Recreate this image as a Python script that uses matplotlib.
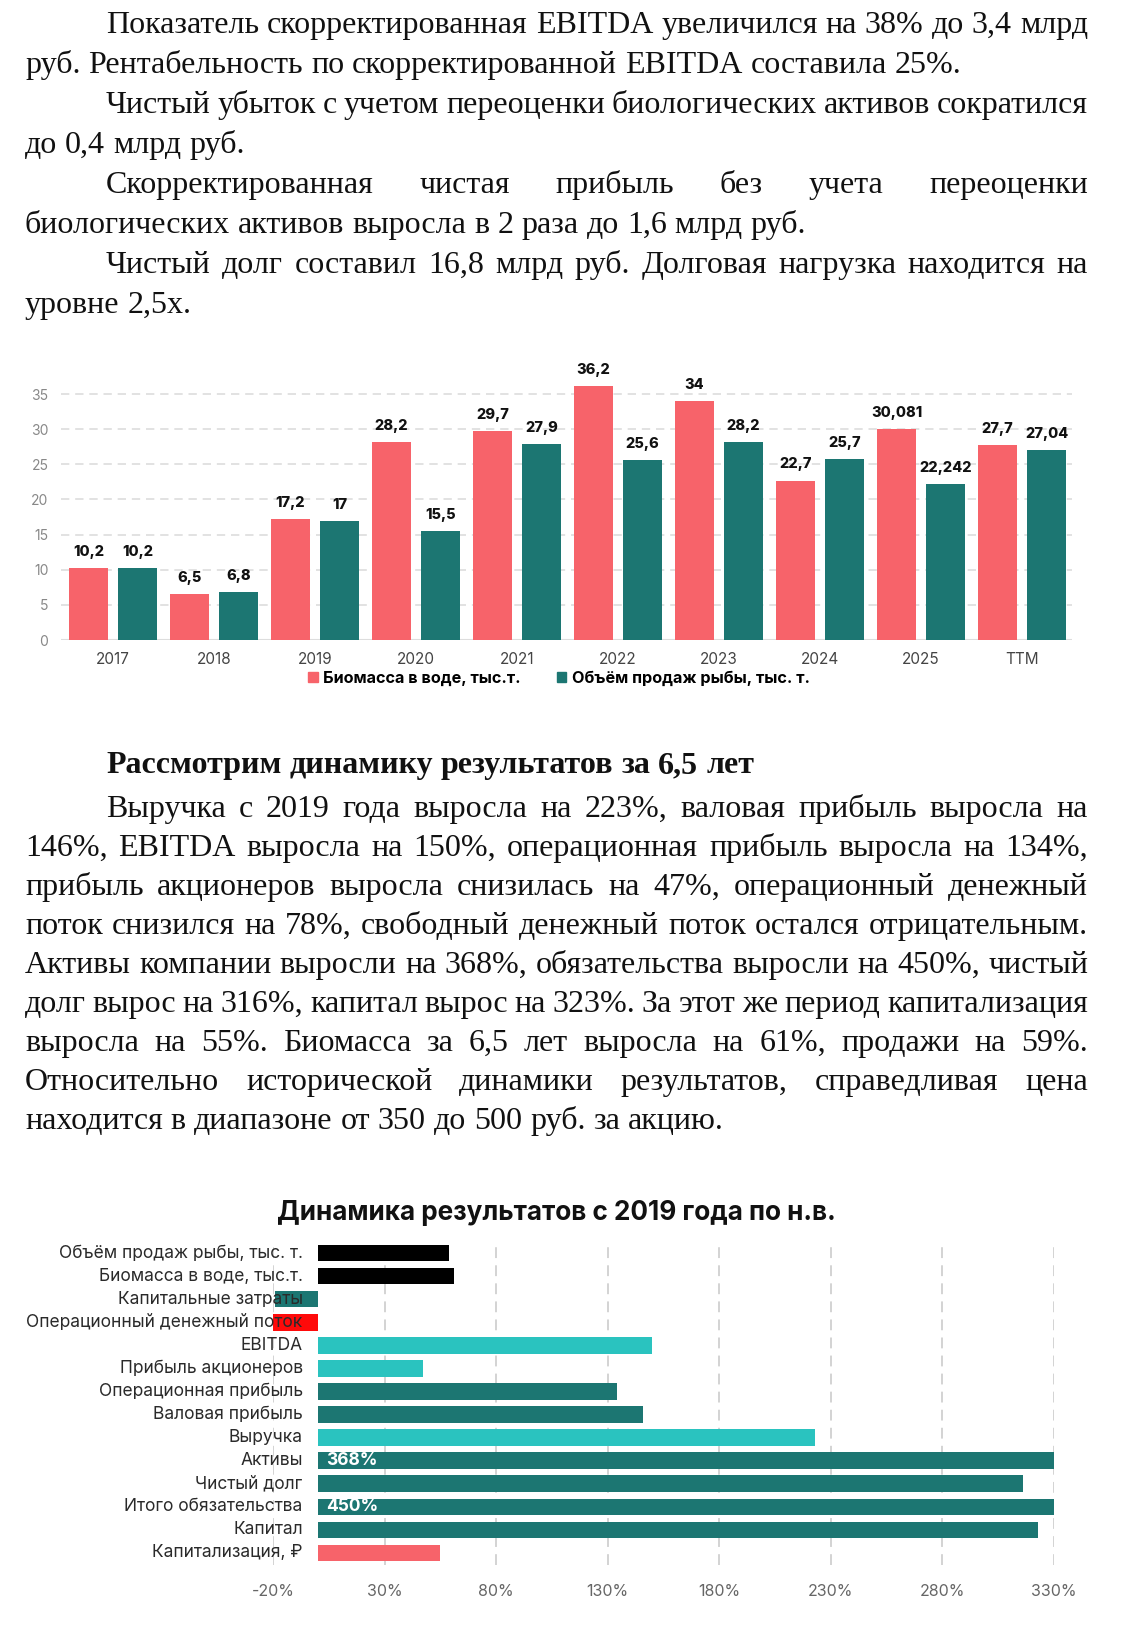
import numpy as np
import matplotlib
matplotlib.use('Agg')
import matplotlib.pyplot as plt
from matplotlib.patches import Patch

W, H = 1125, 1641

# --- bar chart data (тыс. т.)
years = ['2017', '2018', '2019', '2020', '2021', '2022', '2023', '2024', '2025', 'TTM']
biomass = [10.2, 6.5, 17.2, 28.2, 29.7, 36.2, 34, 22.7, 30.081, 27.7]
sales = [10.2, 6.8, 17, 15.5, 27.9, 25.6, 28.2, 25.7, 22.242, 27.04]

# --- growth since 2019, %
metrics = ['Объём продаж рыбы, тыс. т.', 'Биомасса в воде, тыс.т.', 'Капитальные затраты',
           'Операционный денежный поток', 'EBITDA', 'Прибыль акционеров',
           'Операционная прибыль', 'Валовая прибыль', 'Выручка', 'Активы', 'Чистый долг',
           'Итого обязательства', 'Капитал', 'Капитализация, ₽']
growth = [59, 61, -19, -78, 150, 47, 134, 146, 223, 368, 316, 450, 323, 55]
growth_ticks = [-20, 30, 80, 130, 180, 230, 280, 330]

RED = '#f7636a'
TEAL = '#1c7672'
CYAN = '#2ac3bf'
metric_colors = ['#000000', '#000000', TEAL, '#ff0a0a', CYAN, CYAN, TEAL, TEAL, CYAN,
                 TEAL, TEAL, TEAL, TEAL, RED]

SANS = 'Inter'
SERIF = 'Liberation Serif'

fig = plt.figure(figsize=(W / 100, H / 100), dpi=100)
fig.patch.set_facecolor('white')


def px(x, y):
    return x / W, 1 - y / H


def box(l, t, r, b):
    return [l / W, 1 - b / H, (r - l) / W, (b - t) / H]


# ---------- justified paragraph text
LEFT, RIGHT, INDENT = 25, 1088, 106
FS = 23
rend = fig.canvas.get_renderer()


def line(s, y, indent=False, justify=False, **kw):
    x0 = INDENT if indent else LEFT
    words = s.split(' ')
    ts = [fig.text(*px(x0, y), w, ha='left', va='baseline', family=SERIF,
                   fontsize=FS, color='#111111', **kw) for w in words]
    ws = [t.get_window_extent(rend).width for t in ts]
    space = FS * 100 / 72 * 0.25
    if justify and len(ts) > 1:
        gap = max((RIGHT - x0 - sum(ws)) / (len(ts) - 1), 3)
    else:
        gap = space
    x = x0
    for t, w in zip(ts, ws):
        t.set_position(px(x, y))
        x += w + gap


block1 = [
    ("Показатель скорректированная EBITDA увеличился на 38% до 3,4 млрд", True, True),
    ("руб. Рентабельность по скорректированной EBITDA составила 25%.", False, False),
    ("Чистый убыток с учетом переоценки биологических активов сократился", True, True),
    ("до 0,4 млрд руб.", False, False),
    ("Скорректированная чистая прибыль без учета переоценки", True, True),
    ("биологических активов выросла в 2 раза до 1,6 млрд руб.", False, False),
    ("Чистый долг составил 16,8 млрд руб. Долговая нагрузка находится на", True, True),
    ("уровне 2,5х.", False, False),
]
for k, (s, ind, jus) in enumerate(block1):
    line(s, 33 + 40 * k, ind, jus)

line("Рассмотрим динамику результатов за 6,5 лет", 773, True, False, fontweight='bold')
block2 = [
    ("Выручка с 2019 года выросла на 223%, валовая прибыль выросла на", True, True),
    ("146%, EBITDA выросла на 150%, операционная прибыль выросла на 134%,", False, True),
    ("прибыль акционеров выросла снизилась на 47%, операционный денежный", False, True),
    ("поток снизился на 78%, свободный денежный поток остался отрицательным.", False, True),
    ("Активы компании выросли на 368%, обязательства выросли на 450%, чистый", False, True),
    ("долг вырос на 316%, капитал вырос на 323%. За этот же период капитализация", False, True),
    ("выросла на 55%. Биомасса за 6,5 лет выросла на 61%, продажи на 59%.", False, True),
    ("Относительно исторической динамики результатов, справедливая цена", False, True),
    ("находится в диапазоне от 350 до 500 руб. за акцию.", False, False),
]
for k, (s, ind, jus) in enumerate(block2):
    line(s, 817 + 39 * k, ind, jus)

# ---------- grouped bar chart
ax = fig.add_axes(box(61, 373, 1072, 640))
x = np.arange(len(years))
bw, off = 0.386, 0.243
b1 = ax.bar(x - off, biomass, bw, color=RED, zorder=3)
b2 = ax.bar(x + off, sales, bw, color=TEAL, zorder=3)
for bars, vals in ((b1, biomass), (b2, sales)):
    ax.bar_label(bars, labels=[f"{v:g}".replace('.', ',') for v in vals], padding=6.5,
                 fontsize=10.5, fontweight=800, family=SANS, color='#111111')
ax.set_xlim(-0.515, 9.495)
ax.set_ylim(0, 38)
ax.set_yticks(range(0, 36, 5))
ax.set_xticks(x, years)
ax.yaxis.grid(True, ls=(0, (5, 3.5)), color='#dddddd', lw=1.2, zorder=0)
ax.axhline(0, color='#dddddd', lw=1.5, zorder=1)
for s in ax.spines.values():
    s.set_visible(False)
ax.tick_params(length=0)
ax.tick_params(axis='y', pad=9, labelsize=10, labelcolor='#888888')
ax.tick_params(axis='x', pad=9, labelsize=11, labelcolor='#444444')
for t in ax.get_xticklabels() + ax.get_yticklabels():
    t.set_family(SANS)
fig.legend(handles=[Patch(color=RED, label='Биомасса в воде, тыс.т.'),
                    Patch(color=TEAL, label='Объём продаж рыбы, тыс. т.')],
           loc='center', bbox_to_anchor=px(559, 678), ncol=2, frameon=False,
           handlelength=0.6, handleheight=0.6, handletextpad=0.35, columnspacing=2.2,
           prop={'family': SANS, 'weight': 'bold', 'size': 11.7})

# ---------- growth hbar chart
bx = fig.add_axes(box(273, 1241.5, 1054, 1564.5))
y = np.arange(len(metrics))
bx.barh(y, growth, 0.72, color=metric_colors, zorder=3)
bx.set_xlim(growth_ticks[0], growth_ticks[-1])
bx.set_ylim(len(metrics) - 0.5, -0.5)
bx.set_xticks(growth_ticks, [f"{t}%" for t in growth_ticks])
bx.set_yticks([])
bx.xaxis.grid(True, ls=(0, (6, 4)), color='#d0d0d0', lw=1.3, zorder=0)
for s in bx.spines.values():
    s.set_visible(False)
bx.tick_params(length=0)
bx.tick_params(axis='x', pad=14, labelsize=11.5, labelcolor='#666666')
for t in bx.get_xticklabels():
    t.set_family(SANS)
for i, (name, v) in enumerate(zip(metrics, growth)):
    bx.text(-6.7, i, name, ha='right', va='center', fontsize=12.5, family=SANS,
            color='#2a2a2a', zorder=5, clip_on=False)
    if v > growth_ticks[-1]:
        bx.text(4, i, f"{v}%", ha='left', va='center', fontsize=12.5, fontweight='bold',
                family=SANS, color='white', zorder=5)
fig.text(*px(556, 1213), 'Динамика результатов с 2019 года по н.в.', ha='center',
         va='center', fontsize=18.8, fontweight='bold', family=SANS, color='#111111')

fig.savefig('out.png', dpi=100, facecolor='white')
